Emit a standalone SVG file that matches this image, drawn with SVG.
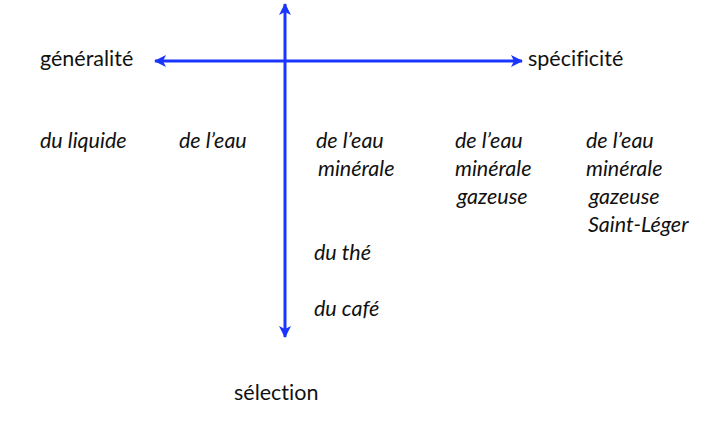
<svg xmlns="http://www.w3.org/2000/svg" width="719" height="429" viewBox="0 0 719 429">
<defs>
<marker id="ah" viewBox="0 0 12 12" refX="11" refY="6" markerWidth="12" markerHeight="12" markerUnits="userSpaceOnUse" orient="auto-start-reverse">
<path d="M0,0 L12,6 L0,12 L3,6 Z" fill="#1a35ff"/>
</marker>
</defs>
<style>
text{font-family:"Lato","Open Sans","Liberation Sans",sans-serif;font-size:21.5px;fill:#111;font-variant-ligatures:none}
.i{font-style:italic}
.ax{stroke:#1a35ff;stroke-width:3;fill:none}
</style>
<rect width="719" height="429" fill="#fff"/>
<g id="connectors">
<line class="ax" x1="285" y1="337" x2="285" y2="4" marker-start="url(#ah)" marker-end="url(#ah)"/>
<line class="ax" x1="155" y1="61" x2="522" y2="61" marker-start="url(#ah)" marker-end="url(#ah)"/>
</g>
<g id="generalite"><text x="40" y="66">généralité</text></g>
<g id="specificite"><text x="528" y="66">spécificité</text></g>
<g id="selection"><text x="234" y="400">sélection</text></g>
<g id="liquide"><text class="i" x="40" y="148">du liquide</text></g>
<g id="eau"><text class="i" x="179" y="148">de l’eau</text></g>
<g id="eau-minerale"><text class="i" x="316" y="148">de l’eau</text><text class="i" x="318" y="176">minérale</text></g>
<g id="eau-minerale-gazeuse"><text class="i" x="455" y="148">de l’eau</text><text class="i" x="455" y="176">minérale</text><text class="i" x="457" y="204">gazeuse</text></g>
<g id="eau-saint-leger"><text class="i" x="586" y="148">de l’eau</text><text class="i" x="586" y="176">minérale</text><text class="i" x="589" y="204">gazeuse</text><text class="i" x="588" y="232">Saint-Léger</text></g>
<g id="the"><text class="i" x="314" y="260">du thé</text></g>
<g id="cafe"><text class="i" x="314" y="316">du café</text></g>
</svg>
